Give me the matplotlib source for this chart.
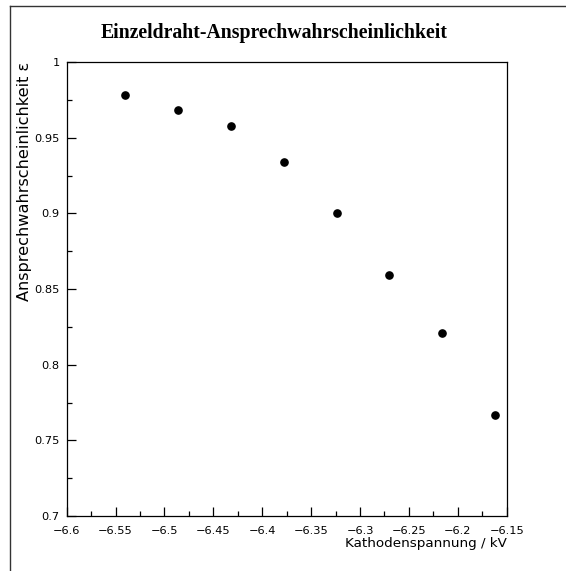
#!/usr/bin/env python3
"""Einzeldraht-Ansprechwahrscheinlichkeit vs. Kathodenspannung (PAW-style plot)."""

import matplotlib
matplotlib.use("Agg")
import matplotlib.pyplot as plt
from matplotlib.lines import Line2D
from matplotlib.ticker import FixedLocator

# Data
voltage_kv = [-6.540, -6.486, -6.432, -6.378, -6.324, -6.270, -6.216, -6.162]
efficiency = [0.978, 0.968, 0.958, 0.934, 0.900, 0.859, 0.821, 0.767]

x_ticks = [-6.6, -6.55, -6.5, -6.45, -6.4, -6.35, -6.3, -6.25, -6.2, -6.15]
x_tick_labels = ["\u22126.6", "\u22126.55", "\u22126.5", "\u22126.45", "\u22126.4",
                 "\u22126.35", "\u22126.3", "\u22126.25", "\u22126.2", "\u22126.15"]
y_ticks = [0.7, 0.75, 0.8, 0.85, 0.9, 0.95, 1.0]
y_tick_labels = ["0.7", "0.75", "0.8", "0.85", "0.9", "0.95", "1"]

SANS = "DejaVu Sans"


def main():
    fig = plt.figure(figsize=(5.66, 5.71), dpi=100)
    ax = fig.add_axes([0.1178, 0.0963, 0.7774, 0.7951])

    ax.plot(voltage_kv, efficiency, "o", color="black", markersize=5.2, linestyle="none")

    ax.set_xlim(-6.6, -6.15)
    ax.set_ylim(0.7, 1.0)

    ax.set_xticks(x_ticks)
    ax.set_xticklabels(x_tick_labels, fontfamily=SANS, fontsize=8.2)
    ax.set_yticks(y_ticks)
    ax.set_yticklabels(y_tick_labels, fontfamily=SANS, fontsize=8.2)

    minor_x = [(a + b) / 2 for a, b in zip(x_ticks[:-1], x_ticks[1:])]
    minor_y = [(a + b) / 2 for a, b in zip(y_ticks[:-1], y_ticks[1:])]
    ax.xaxis.set_minor_locator(FixedLocator(minor_x))
    ax.yaxis.set_minor_locator(FixedLocator(minor_y))

    ax.tick_params(which="both", direction="in", top=False, right=False,
                   width=0.9, color="black")
    ax.tick_params(which="major", length=6.5)
    ax.tick_params(which="minor", length=3.8)
    ax.tick_params(axis="x", which="major", pad=7.5)
    ax.tick_params(axis="y", which="major", pad=5)

    for sp in ax.spines.values():
        sp.set_linewidth(0.9)
        sp.set_color("black")

    # axis titles, PAW style: x right-aligned, y top-aligned
    fig.text(0.8952, 0.049, "Kathodenspannung / kV", ha="right", va="center",
             fontfamily=SANS, fontsize=9.7)
    fig.text(0.044, 0.8914, "Ansprechwahrscheinlichkeit \u03b5", ha="center", va="top",
             rotation=90, fontfamily=SANS, fontsize=11.6)

    fig.text(0.485, 0.943, "Einzeldraht-Ansprechwahrscheinlichkeit", ha="center",
             va="center", fontfamily="Liberation Serif", fontweight="bold", fontsize=14.2)

    # page frame (left and top edges only visible)
    x0 = 9.5 / 566
    y0 = 1 - 5.5 / 571
    fig.add_artist(Line2D([x0, x0], [0, y0], transform=fig.transFigure,
                          color="#333333", linewidth=1.0))
    fig.add_artist(Line2D([x0, 1], [y0, y0], transform=fig.transFigure,
                          color="#333333", linewidth=1.0))

    fig.savefig("out.png", dpi=100)


if __name__ == "__main__":
    main()
